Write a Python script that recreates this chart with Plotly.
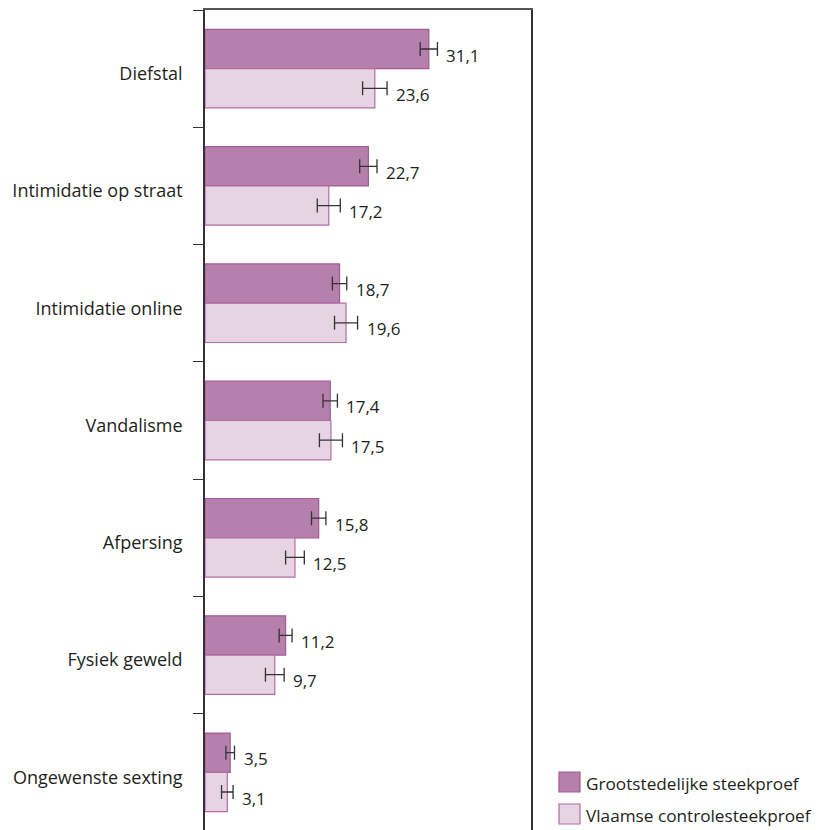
import plotly.graph_objects as go

categories = ["Diefstal", "Intimidatie op straat", "Intimidatie online", "Vandalisme",
              "Afpersing", "Fysiek geweld", "Ongewenste sexting"]
groot = [31.1, 22.7, 18.7, 17.4, 15.8, 11.2, 3.5]
groot_err = [1.2, 1.2, 1.0, 1.0, 1.0, 0.9, 0.6]
vlaams = [23.6, 17.2, 19.6, 17.5, 12.5, 9.7, 3.1]
vlaams_err = [1.7, 1.6, 1.6, 1.6, 1.3, 1.3, 0.8]
series_names = ["Grootstedelijke steekproef", "Vlaamse controlesteekproef"]

FONT = "Open Sans"
TXT = "#231f20"
DARK, DARK_LINE = "#b580ab", "#a35a95"
LIGHT, LIGHT_LINE = "#e6d4e2", "#b66aa6"

# page body has an 8px margin, so the figure is placed 8px right/down
PX0, PX1, PY0, PY1 = 205, 531, 10, 831

fig = go.Figure()
for name, vals, errs, fill, line in [
    (series_names[0], groot, groot_err, DARK, DARK_LINE),
    (series_names[1], vlaams, vlaams_err, LIGHT, LIGHT_LINE),
]:
    fig.add_trace(go.Bar(
        x=vals, y=categories, orientation="h", name=name,
        marker=dict(color=fill, line=dict(color=line, width=1.2)),
        error_x=dict(type="data", array=errs, color="#333333", thickness=1.3, width=7),
        showlegend=False,
    ))

# value labels next to the error bars
bw = (1 - 0.33) / 2
for i, cat in enumerate(categories):
    for off, vals, errs in [(-bw / 2, groot, groot_err), (bw / 2, vlaams, vlaams_err)]:
        fig.add_annotation(
            x=vals[i] + errs[i], y=i + off, xref="x", yref="y",
            text=f"{vals[i]:.1f}".replace(".", ","), showarrow=False,
            xanchor="left", xshift=7, yshift=-6,
            font=dict(family=FONT, size=17, color=TXT),
        )

def px(sx):
    return (sx - PX0) / (PX1 - PX0)

def py(sy):
    return (PY1 - sy) / (PY1 - PY0)

# legend drawn by hand (large swatches)
for k, (name, fill, line) in enumerate([(series_names[0], DARK, DARK_LINE),
                                         (series_names[1], LIGHT, LIGHT_LINE)]):
    y0 = 772 + k * 32
    fig.add_shape(type="rect", xref="paper", yref="paper",
                  x0=px(559), x1=px(580), y0=py(y0 + 20), y1=py(y0),
                  fillcolor=fill, line=dict(color=line, width=1.2))
    fig.add_annotation(x=px(584), y=py(y0 + 11), xref="paper", yref="paper",
                       text=name, showarrow=False, xanchor="left", yanchor="middle",
                       font=dict(family=FONT, size=17.2, color=TXT))

fig.update_layout(
    width=823, height=830,
    margin=dict(l=PX0 - 8, r=823 - (PX1 - 8), t=PY0 - 8, b=830 - (PY1 - 8), autoexpand=False),
    plot_bgcolor="white", paper_bgcolor="white",
    barmode="group", bargap=0.33, bargroupgap=0,
    font=dict(family=FONT, size=18, color=TXT),
    xaxis=dict(range=[0, 45.3], side="top", showline=True, linecolor="#555555", linewidth=1.5,
               showticklabels=False, ticks="", showgrid=False, zeroline=False, automargin=False),
    yaxis=dict(autorange="reversed", showline=True, mirror=True, linecolor="#333333", linewidth=1.5,
               ticks="outside", tickson="boundaries", ticklen=10, tickcolor="#333333",
               tickwidth=1.3, ticklabelstandoff=17, ticklabelshift=-5, showgrid=False,
               automargin=False, tickfont=dict(family=FONT, size=18, color=TXT)),
)

fig.write_html("out.html")
